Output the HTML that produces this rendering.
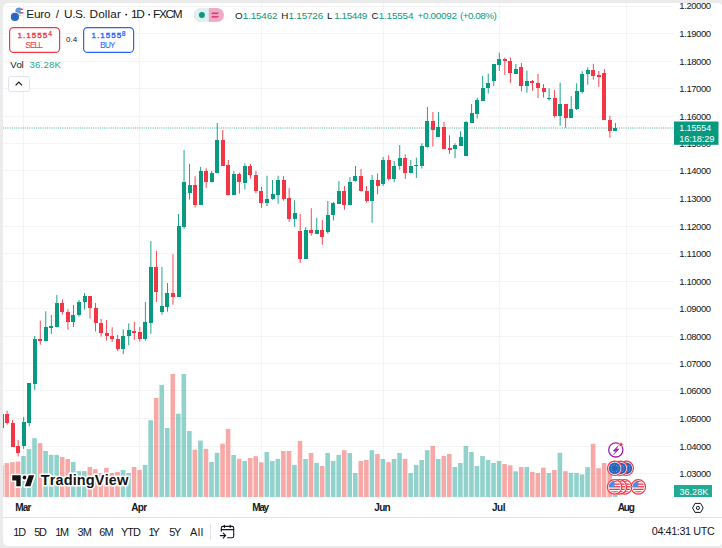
<!DOCTYPE html>
<html><head><meta charset="utf-8"><style>
*{margin:0;padding:0}
html,body{width:722px;height:548px;overflow:hidden;background:#ebebeb}
#panel{position:absolute;left:3px;top:3px;width:720px;height:543px;background:#fff;border-radius:5px}
svg{position:absolute;left:0;top:0;font-family:"Liberation Sans",Arial,sans-serif}
</style></head><body>
<div id="panel"></div>
<svg width="722" height="548">
<defs><clipPath id="pane"><rect x="3" y="3" width="670" height="494"/></clipPath>
<clipPath id="pnl"><rect x="3" y="3" width="720" height="543" rx="5"/></clipPath></defs>
<g clip-path="url(#pane)">
<rect x="3" y="6" width="670" height="1" fill="#f4f4f4"/><rect x="3" y="33" width="670" height="1" fill="#f4f4f4"/><rect x="3" y="61" width="670" height="1" fill="#f4f4f4"/><rect x="3" y="88" width="670" height="1" fill="#f4f4f4"/><rect x="3" y="116" width="670" height="1" fill="#f4f4f4"/><rect x="3" y="143" width="670" height="1" fill="#f4f4f4"/><rect x="3" y="170" width="670" height="1" fill="#f4f4f4"/><rect x="3" y="198" width="670" height="1" fill="#f4f4f4"/><rect x="3" y="226" width="670" height="1" fill="#f4f4f4"/><rect x="3" y="253" width="670" height="1" fill="#f4f4f4"/><rect x="3" y="281" width="670" height="1" fill="#f4f4f4"/><rect x="3" y="308" width="670" height="1" fill="#f4f4f4"/><rect x="3" y="336" width="670" height="1" fill="#f4f4f4"/><rect x="3" y="363" width="670" height="1" fill="#f4f4f4"/><rect x="3" y="390" width="670" height="1" fill="#f4f4f4"/><rect x="3" y="418" width="670" height="1" fill="#f4f4f4"/><rect x="3" y="446" width="670" height="1" fill="#f4f4f4"/><rect x="3" y="473" width="670" height="1" fill="#f4f4f4"/><rect x="23" y="3" width="1" height="494" fill="#f4f4f4"/><rect x="139" y="3" width="1" height="494" fill="#f4f4f4"/><rect x="261" y="3" width="1" height="494" fill="#f4f4f4"/><rect x="383" y="3" width="1" height="494" fill="#f4f4f4"/><rect x="499" y="3" width="1" height="494" fill="#f4f4f4"/><rect x="626" y="3" width="1" height="494" fill="#f4f4f4"/>
<g><rect x="-0.95" y="465.2" width="4.6" height="31.8" fill="rgba(38,166,154,0.5)"/><rect x="4.58" y="463.1" width="4.6" height="33.9" fill="rgba(239,83,80,0.5)"/><rect x="10.11" y="462.2" width="4.6" height="34.8" fill="rgba(239,83,80,0.5)"/><rect x="15.64" y="461.5" width="4.6" height="35.5" fill="rgba(239,83,80,0.5)"/><rect x="21.17" y="456.0" width="4.6" height="41.0" fill="rgba(38,166,154,0.5)"/><rect x="26.70" y="448.9" width="4.6" height="48.1" fill="rgba(38,166,154,0.5)"/><rect x="32.23" y="438.2" width="4.6" height="58.8" fill="rgba(38,166,154,0.5)"/><rect x="37.76" y="443.0" width="4.6" height="54.0" fill="rgba(239,83,80,0.5)"/><rect x="43.29" y="451.0" width="4.6" height="46.0" fill="rgba(38,166,154,0.5)"/><rect x="48.82" y="454.9" width="4.6" height="42.1" fill="rgba(38,166,154,0.5)"/><rect x="54.35" y="454.9" width="4.6" height="42.1" fill="rgba(38,166,154,0.5)"/><rect x="59.88" y="457.0" width="4.6" height="40.0" fill="rgba(239,83,80,0.5)"/><rect x="65.41" y="459.0" width="4.6" height="38.0" fill="rgba(239,83,80,0.5)"/><rect x="70.94" y="462.0" width="4.6" height="35.0" fill="rgba(38,166,154,0.5)"/><rect x="76.47" y="471.1" width="4.6" height="25.9" fill="rgba(38,166,154,0.5)"/><rect x="82.00" y="471.1" width="4.6" height="25.9" fill="rgba(38,166,154,0.5)"/><rect x="87.53" y="467.0" width="4.6" height="30.0" fill="rgba(239,83,80,0.5)"/><rect x="93.06" y="469.1" width="4.6" height="27.9" fill="rgba(239,83,80,0.5)"/><rect x="98.59" y="473.0" width="4.6" height="24.0" fill="rgba(239,83,80,0.5)"/><rect x="104.12" y="467.9" width="4.6" height="29.1" fill="rgba(239,83,80,0.5)"/><rect x="109.65" y="473.0" width="4.6" height="24.0" fill="rgba(239,83,80,0.5)"/><rect x="115.18" y="472.0" width="4.6" height="25.0" fill="rgba(239,83,80,0.5)"/><rect x="120.72" y="470.0" width="4.6" height="27.0" fill="rgba(38,166,154,0.5)"/><rect x="126.25" y="473.0" width="4.6" height="24.0" fill="rgba(38,166,154,0.5)"/><rect x="131.78" y="467.0" width="4.6" height="30.0" fill="rgba(239,83,80,0.5)"/><rect x="137.31" y="470.0" width="4.6" height="27.0" fill="rgba(239,83,80,0.5)"/><rect x="142.84" y="464.9" width="4.6" height="32.1" fill="rgba(38,166,154,0.5)"/><rect x="148.37" y="420.2" width="4.6" height="76.8" fill="rgba(38,166,154,0.5)"/><rect x="153.90" y="398.0" width="4.6" height="99.0" fill="rgba(239,83,80,0.5)"/><rect x="159.43" y="384.9" width="4.6" height="112.1" fill="rgba(38,166,154,0.5)"/><rect x="164.96" y="428.0" width="4.6" height="69.0" fill="rgba(38,166,154,0.5)"/><rect x="170.49" y="374.0" width="4.6" height="123.0" fill="rgba(239,83,80,0.5)"/><rect x="176.02" y="413.7" width="4.6" height="83.3" fill="rgba(38,166,154,0.5)"/><rect x="181.55" y="374.0" width="4.6" height="123.0" fill="rgba(38,166,154,0.5)"/><rect x="187.08" y="431.0" width="4.6" height="66.0" fill="rgba(38,166,154,0.5)"/><rect x="192.61" y="449.7" width="4.6" height="47.3" fill="rgba(239,83,80,0.5)"/><rect x="198.14" y="440.6" width="4.6" height="56.4" fill="rgba(38,166,154,0.5)"/><rect x="203.67" y="448.9" width="4.6" height="48.1" fill="rgba(239,83,80,0.5)"/><rect x="209.20" y="462.0" width="4.6" height="35.0" fill="rgba(38,166,154,0.5)"/><rect x="214.73" y="452.9" width="4.6" height="44.1" fill="rgba(38,166,154,0.5)"/><rect x="220.26" y="443.7" width="4.6" height="53.3" fill="rgba(239,83,80,0.5)"/><rect x="225.79" y="428.9" width="4.6" height="68.1" fill="rgba(239,83,80,0.5)"/><rect x="231.32" y="455.0" width="4.6" height="42.0" fill="rgba(38,166,154,0.5)"/><rect x="236.85" y="458.9" width="4.6" height="38.1" fill="rgba(239,83,80,0.5)"/><rect x="242.38" y="461.0" width="4.6" height="36.0" fill="rgba(38,166,154,0.5)"/><rect x="247.91" y="458.0" width="4.6" height="39.0" fill="rgba(239,83,80,0.5)"/><rect x="253.44" y="456.2" width="4.6" height="40.8" fill="rgba(239,83,80,0.5)"/><rect x="258.98" y="462.3" width="4.6" height="34.7" fill="rgba(239,83,80,0.5)"/><rect x="264.51" y="452.0" width="4.6" height="45.0" fill="rgba(38,166,154,0.5)"/><rect x="270.04" y="461.0" width="4.6" height="36.0" fill="rgba(38,166,154,0.5)"/><rect x="275.57" y="458.9" width="4.6" height="38.1" fill="rgba(38,166,154,0.5)"/><rect x="281.10" y="451.0" width="4.6" height="46.0" fill="rgba(239,83,80,0.5)"/><rect x="286.63" y="451.0" width="4.6" height="46.0" fill="rgba(239,83,80,0.5)"/><rect x="292.16" y="464.9" width="4.6" height="32.1" fill="rgba(38,166,154,0.5)"/><rect x="297.69" y="441.0" width="4.6" height="56.0" fill="rgba(239,83,80,0.5)"/><rect x="303.22" y="459.0" width="4.6" height="38.0" fill="rgba(38,166,154,0.5)"/><rect x="308.75" y="453.0" width="4.6" height="44.0" fill="rgba(239,83,80,0.5)"/><rect x="314.28" y="462.9" width="4.6" height="34.1" fill="rgba(38,166,154,0.5)"/><rect x="319.81" y="466.0" width="4.6" height="31.0" fill="rgba(239,83,80,0.5)"/><rect x="325.34" y="453.0" width="4.6" height="44.0" fill="rgba(38,166,154,0.5)"/><rect x="330.87" y="461.0" width="4.6" height="36.0" fill="rgba(38,166,154,0.5)"/><rect x="336.40" y="455.0" width="4.6" height="42.0" fill="rgba(38,166,154,0.5)"/><rect x="341.93" y="450.2" width="4.6" height="46.8" fill="rgba(239,83,80,0.5)"/><rect x="347.46" y="453.0" width="4.6" height="44.0" fill="rgba(38,166,154,0.5)"/><rect x="352.99" y="473.0" width="4.6" height="24.0" fill="rgba(38,166,154,0.5)"/><rect x="358.52" y="461.0" width="4.6" height="36.0" fill="rgba(239,83,80,0.5)"/><rect x="364.05" y="460.0" width="4.6" height="37.0" fill="rgba(239,83,80,0.5)"/><rect x="369.58" y="450.2" width="4.6" height="46.8" fill="rgba(38,166,154,0.5)"/><rect x="375.11" y="454.0" width="4.6" height="43.0" fill="rgba(239,83,80,0.5)"/><rect x="380.64" y="459.0" width="4.6" height="38.0" fill="rgba(38,166,154,0.5)"/><rect x="386.17" y="462.2" width="4.6" height="34.8" fill="rgba(239,83,80,0.5)"/><rect x="391.70" y="459.0" width="4.6" height="38.0" fill="rgba(38,166,154,0.5)"/><rect x="397.24" y="453.0" width="4.6" height="44.0" fill="rgba(38,166,154,0.5)"/><rect x="402.77" y="458.9" width="4.6" height="38.1" fill="rgba(239,83,80,0.5)"/><rect x="408.30" y="473.0" width="4.6" height="24.0" fill="rgba(38,166,154,0.5)"/><rect x="413.83" y="464.9" width="4.6" height="32.1" fill="rgba(38,166,154,0.5)"/><rect x="419.36" y="460.0" width="4.6" height="37.0" fill="rgba(38,166,154,0.5)"/><rect x="424.89" y="450.2" width="4.6" height="46.8" fill="rgba(38,166,154,0.5)"/><rect x="430.42" y="446.0" width="4.6" height="51.0" fill="rgba(239,83,80,0.5)"/><rect x="435.95" y="459.0" width="4.6" height="38.0" fill="rgba(38,166,154,0.5)"/><rect x="441.48" y="456.0" width="4.6" height="41.0" fill="rgba(239,83,80,0.5)"/><rect x="447.01" y="454.0" width="4.6" height="43.0" fill="rgba(239,83,80,0.5)"/><rect x="452.54" y="467.0" width="4.6" height="30.0" fill="rgba(38,166,154,0.5)"/><rect x="458.07" y="463.0" width="4.6" height="34.0" fill="rgba(38,166,154,0.5)"/><rect x="463.60" y="446.0" width="4.6" height="51.0" fill="rgba(38,166,154,0.5)"/><rect x="469.13" y="452.0" width="4.6" height="45.0" fill="rgba(38,166,154,0.5)"/><rect x="474.66" y="466.0" width="4.6" height="31.0" fill="rgba(38,166,154,0.5)"/><rect x="480.19" y="456.0" width="4.6" height="41.0" fill="rgba(38,166,154,0.5)"/><rect x="485.72" y="460.0" width="4.6" height="37.0" fill="rgba(38,166,154,0.5)"/><rect x="491.25" y="463.0" width="4.6" height="34.0" fill="rgba(38,166,154,0.5)"/><rect x="496.78" y="461.0" width="4.6" height="36.0" fill="rgba(38,166,154,0.5)"/><rect x="502.31" y="464.0" width="4.6" height="33.0" fill="rgba(239,83,80,0.5)"/><rect x="507.84" y="465.3" width="4.6" height="31.7" fill="rgba(239,83,80,0.5)"/><rect x="513.37" y="471.3" width="4.6" height="25.7" fill="rgba(38,166,154,0.5)"/><rect x="518.90" y="467.0" width="4.6" height="30.0" fill="rgba(239,83,80,0.5)"/><rect x="524.43" y="467.0" width="4.6" height="30.0" fill="rgba(38,166,154,0.5)"/><rect x="529.96" y="472.0" width="4.6" height="25.0" fill="rgba(239,83,80,0.5)"/><rect x="535.50" y="473.0" width="4.6" height="24.0" fill="rgba(239,83,80,0.5)"/><rect x="541.03" y="467.7" width="4.6" height="29.3" fill="rgba(239,83,80,0.5)"/><rect x="546.56" y="473.0" width="4.6" height="24.0" fill="rgba(38,166,154,0.5)"/><rect x="552.09" y="470.0" width="4.6" height="27.0" fill="rgba(239,83,80,0.5)"/><rect x="557.62" y="452.8" width="4.6" height="44.2" fill="rgba(38,166,154,0.5)"/><rect x="563.15" y="471.2" width="4.6" height="25.8" fill="rgba(239,83,80,0.5)"/><rect x="568.68" y="473.0" width="4.6" height="24.0" fill="rgba(38,166,154,0.5)"/><rect x="574.21" y="473.0" width="4.6" height="24.0" fill="rgba(38,166,154,0.5)"/><rect x="579.74" y="474.4" width="4.6" height="22.6" fill="rgba(38,166,154,0.5)"/><rect x="585.27" y="467.1" width="4.6" height="29.9" fill="rgba(38,166,154,0.5)"/><rect x="590.80" y="443.8" width="4.6" height="53.2" fill="rgba(239,83,80,0.5)"/><rect x="596.33" y="468.2" width="4.6" height="28.8" fill="rgba(239,83,80,0.5)"/><rect x="601.86" y="463.0" width="4.6" height="34.0" fill="rgba(239,83,80,0.5)"/><rect x="607.39" y="468.0" width="4.6" height="29.0" fill="rgba(239,83,80,0.5)"/><rect x="612.92" y="494.5" width="4.6" height="2.5" fill="rgba(38,166,154,0.5)"/></g>
<g><rect x="1.10" y="414.0" width="0.9" height="14.0" fill="#089981"/><rect x="6.63" y="410.8" width="0.9" height="13.9" fill="#f23645"/><rect x="12.16" y="420.0" width="0.9" height="26.6" fill="#f23645"/><rect x="17.69" y="440.0" width="0.9" height="16.5" fill="#f23645"/><rect x="23.22" y="416.9" width="0.9" height="31.9" fill="#089981"/><rect x="28.75" y="383.3" width="0.9" height="43.2" fill="#089981"/><rect x="34.28" y="336.0" width="0.9" height="54.0" fill="#089981"/><rect x="39.81" y="320.6" width="0.9" height="24.0" fill="#f23645"/><rect x="45.34" y="311.3" width="0.9" height="30.0" fill="#089981"/><rect x="50.87" y="315.0" width="0.9" height="19.0" fill="#089981"/><rect x="56.40" y="295.0" width="0.9" height="32.5" fill="#089981"/><rect x="61.93" y="299.3" width="0.9" height="15.3" fill="#f23645"/><rect x="67.46" y="309.3" width="0.9" height="20.4" fill="#f23645"/><rect x="72.99" y="304.9" width="0.9" height="22.1" fill="#089981"/><rect x="78.52" y="300.0" width="0.9" height="16.6" fill="#089981"/><rect x="84.05" y="293.0" width="0.9" height="16.7" fill="#089981"/><rect x="89.58" y="296.0" width="0.9" height="22.6" fill="#f23645"/><rect x="95.11" y="303.0" width="0.9" height="28.5" fill="#f23645"/><rect x="100.64" y="319.0" width="0.9" height="17.6" fill="#f23645"/><rect x="106.17" y="320.0" width="0.9" height="20.6" fill="#f23645"/><rect x="111.70" y="327.3" width="0.9" height="14.7" fill="#f23645"/><rect x="117.23" y="335.0" width="0.9" height="16.1" fill="#f23645"/><rect x="122.77" y="329.4" width="0.9" height="24.7" fill="#089981"/><rect x="128.30" y="323.4" width="0.9" height="21.8" fill="#089981"/><rect x="133.83" y="321.9" width="0.9" height="17.8" fill="#f23645"/><rect x="139.36" y="326.9" width="0.9" height="14.6" fill="#f23645"/><rect x="144.89" y="302.0" width="0.9" height="38.8" fill="#089981"/><rect x="150.42" y="241.0" width="0.9" height="92.8" fill="#089981"/><rect x="155.95" y="250.7" width="0.9" height="51.3" fill="#f23645"/><rect x="161.48" y="267.0" width="0.9" height="47.6" fill="#089981"/><rect x="167.01" y="283.0" width="0.9" height="28.7" fill="#089981"/><rect x="172.54" y="254.2" width="0.9" height="50.4" fill="#f23645"/><rect x="178.07" y="214.0" width="0.9" height="82.6" fill="#089981"/><rect x="183.60" y="150.0" width="0.9" height="78.9" fill="#089981"/><rect x="189.13" y="163.7" width="0.9" height="35.9" fill="#089981"/><rect x="194.66" y="176.2" width="0.9" height="31.4" fill="#f23645"/><rect x="200.19" y="166.9" width="0.9" height="37.7" fill="#089981"/><rect x="205.72" y="168.2" width="0.9" height="19.8" fill="#f23645"/><rect x="211.25" y="170.9" width="0.9" height="11.7" fill="#089981"/><rect x="216.78" y="122.9" width="0.9" height="50.4" fill="#089981"/><rect x="222.31" y="130.0" width="0.9" height="36.0" fill="#f23645"/><rect x="227.84" y="160.0" width="0.9" height="35.6" fill="#f23645"/><rect x="233.37" y="171.0" width="0.9" height="23.7" fill="#089981"/><rect x="238.90" y="172.6" width="0.9" height="21.0" fill="#f23645"/><rect x="244.43" y="163.3" width="0.9" height="26.3" fill="#089981"/><rect x="249.96" y="164.0" width="0.9" height="14.7" fill="#f23645"/><rect x="255.49" y="170.9" width="0.9" height="22.4" fill="#f23645"/><rect x="261.03" y="186.9" width="0.9" height="20.9" fill="#f23645"/><rect x="266.56" y="175.7" width="0.9" height="30.3" fill="#089981"/><rect x="272.09" y="180.0" width="0.9" height="19.7" fill="#089981"/><rect x="277.62" y="175.7" width="0.9" height="28.0" fill="#089981"/><rect x="283.15" y="176.2" width="0.9" height="24.4" fill="#f23645"/><rect x="288.68" y="188.2" width="0.9" height="33.7" fill="#f23645"/><rect x="294.21" y="200.2" width="0.9" height="26.7" fill="#089981"/><rect x="299.74" y="214.0" width="0.9" height="48.9" fill="#f23645"/><rect x="305.27" y="227.0" width="0.9" height="31.8" fill="#089981"/><rect x="310.80" y="208.2" width="0.9" height="27.4" fill="#f23645"/><rect x="316.33" y="217.8" width="0.9" height="15.7" fill="#089981"/><rect x="321.86" y="220.0" width="0.9" height="24.7" fill="#f23645"/><rect x="327.39" y="201.0" width="0.9" height="32.8" fill="#089981"/><rect x="332.92" y="202.0" width="0.9" height="18.5" fill="#089981"/><rect x="338.45" y="181.0" width="0.9" height="22.7" fill="#089981"/><rect x="343.98" y="186.1" width="0.9" height="23.7" fill="#f23645"/><rect x="349.51" y="177.0" width="0.9" height="27.8" fill="#089981"/><rect x="355.04" y="166.0" width="0.9" height="15.5" fill="#089981"/><rect x="360.57" y="169.0" width="0.9" height="22.7" fill="#f23645"/><rect x="366.10" y="186.1" width="0.9" height="16.5" fill="#f23645"/><rect x="371.63" y="174.9" width="0.9" height="47.9" fill="#089981"/><rect x="377.16" y="173.3" width="0.9" height="20.9" fill="#f23645"/><rect x="382.69" y="157.0" width="0.9" height="28.8" fill="#089981"/><rect x="388.22" y="155.3" width="0.9" height="25.3" fill="#f23645"/><rect x="393.75" y="161.0" width="0.9" height="21.3" fill="#089981"/><rect x="399.29" y="145.0" width="0.9" height="24.6" fill="#089981"/><rect x="404.82" y="154.4" width="0.9" height="24.5" fill="#f23645"/><rect x="410.35" y="160.0" width="0.9" height="13.6" fill="#089981"/><rect x="415.88" y="157.6" width="0.9" height="20.4" fill="#089981"/><rect x="421.41" y="143.3" width="0.9" height="25.3" fill="#089981"/><rect x="426.94" y="107.0" width="0.9" height="40.6" fill="#089981"/><rect x="432.47" y="112.0" width="0.9" height="34.6" fill="#f23645"/><rect x="438.00" y="112.0" width="0.9" height="24.6" fill="#089981"/><rect x="443.53" y="121.7" width="0.9" height="27.6" fill="#f23645"/><rect x="449.06" y="135.3" width="0.9" height="18.6" fill="#f23645"/><rect x="454.59" y="143.3" width="0.9" height="14.9" fill="#089981"/><rect x="460.12" y="131.3" width="0.9" height="14.4" fill="#089981"/><rect x="465.65" y="120.9" width="0.9" height="34.6" fill="#089981"/><rect x="471.18" y="104.0" width="0.9" height="18.6" fill="#089981"/><rect x="476.71" y="97.6" width="0.9" height="21.0" fill="#089981"/><rect x="482.24" y="76.0" width="0.9" height="24.5" fill="#089981"/><rect x="487.77" y="73.6" width="0.9" height="19.9" fill="#089981"/><rect x="493.30" y="64.2" width="0.9" height="21.8" fill="#089981"/><rect x="498.83" y="52.6" width="0.9" height="18.3" fill="#089981"/><rect x="504.36" y="57.6" width="0.9" height="17.3" fill="#f23645"/><rect x="509.89" y="57.6" width="0.9" height="25.3" fill="#f23645"/><rect x="515.42" y="64.0" width="0.9" height="9.6" fill="#089981"/><rect x="520.95" y="62.9" width="0.9" height="28.4" fill="#f23645"/><rect x="526.48" y="70.6" width="0.9" height="22.0" fill="#089981"/><rect x="532.01" y="80.0" width="0.9" height="10.7" fill="#f23645"/><rect x="537.55" y="74.0" width="0.9" height="24.1" fill="#f23645"/><rect x="543.08" y="84.0" width="0.9" height="13.5" fill="#f23645"/><rect x="548.61" y="88.3" width="0.9" height="12.2" fill="#089981"/><rect x="554.14" y="90.0" width="0.9" height="27.6" fill="#f23645"/><rect x="559.67" y="82.5" width="0.9" height="43.4" fill="#089981"/><rect x="565.20" y="104.0" width="0.9" height="23.6" fill="#f23645"/><rect x="570.73" y="96.0" width="0.9" height="21.9" fill="#089981"/><rect x="576.26" y="83.3" width="0.9" height="26.7" fill="#089981"/><rect x="581.79" y="71.2" width="0.9" height="22.4" fill="#089981"/><rect x="587.32" y="67.3" width="0.9" height="17.4" fill="#089981"/><rect x="592.85" y="63.8" width="0.9" height="15.9" fill="#f23645"/><rect x="598.38" y="71.0" width="0.9" height="16.0" fill="#f23645"/><rect x="603.91" y="69.0" width="0.9" height="50.6" fill="#f23645"/><rect x="609.44" y="115.6" width="0.9" height="22.0" fill="#f23645"/><rect x="614.97" y="123.0" width="0.9" height="7.7" fill="#089981"/></g><g shape-rendering="crispEdges"><rect x="0" y="414.0" width="4" height="14.0" fill="#089981"/><rect x="5" y="414.2" width="4" height="8.8" fill="#f23645"/><rect x="11" y="422.9" width="4" height="23.7" fill="#f23645"/><rect x="16" y="446.2" width="4" height="7.1" fill="#f23645"/><rect x="22" y="421.9" width="4" height="23.8" fill="#089981"/><rect x="27" y="383.3" width="4" height="39.4" fill="#089981"/><rect x="33" y="339.0" width="4" height="45.0" fill="#089981"/><rect x="38" y="339.3" width="4" height="1.7" fill="#f23645"/><rect x="44" y="327.3" width="4" height="13.6" fill="#089981"/><rect x="49" y="326.2" width="4" height="1.8" fill="#089981"/><rect x="55" y="303.0" width="4" height="24.0" fill="#089981"/><rect x="60" y="303.3" width="4" height="8.3" fill="#f23645"/><rect x="66" y="311.6" width="4" height="10.4" fill="#f23645"/><rect x="71" y="315.0" width="4" height="7.0" fill="#089981"/><rect x="77" y="302.0" width="4" height="13.0" fill="#089981"/><rect x="83" y="296.0" width="4" height="6.3" fill="#089981"/><rect x="88" y="296.0" width="4" height="12.0" fill="#f23645"/><rect x="94" y="308.0" width="4" height="15.3" fill="#f23645"/><rect x="99" y="322.6" width="4" height="10.3" fill="#f23645"/><rect x="105" y="332.6" width="4" height="3.4" fill="#f23645"/><rect x="110" y="335.6" width="4" height="3.2" fill="#f23645"/><rect x="116" y="339.0" width="4" height="9.8" fill="#f23645"/><rect x="121" y="336.0" width="4" height="12.8" fill="#089981"/><rect x="127" y="329.8" width="4" height="6.0" fill="#089981"/><rect x="132" y="331.0" width="4" height="1.5" fill="#f23645"/><rect x="138" y="331.9" width="4" height="6.7" fill="#f23645"/><rect x="143" y="322.0" width="4" height="16.6" fill="#089981"/><rect x="149" y="266.5" width="4" height="56.3" fill="#089981"/><rect x="154" y="266.5" width="4" height="25.2" fill="#f23645"/><rect x="160" y="306.0" width="4" height="6.0" fill="#089981"/><rect x="165" y="293.3" width="4" height="13.3" fill="#089981"/><rect x="171" y="293.3" width="4" height="3.3" fill="#f23645"/><rect x="177" y="226.0" width="4" height="70.6" fill="#089981"/><rect x="182" y="181.9" width="4" height="44.8" fill="#089981"/><rect x="188" y="184.8" width="4" height="7.9" fill="#089981"/><rect x="193" y="184.8" width="4" height="19.8" fill="#f23645"/><rect x="199" y="170.9" width="4" height="33.7" fill="#089981"/><rect x="204" y="170.9" width="4" height="11.0" fill="#f23645"/><rect x="210" y="173.3" width="4" height="8.6" fill="#089981"/><rect x="215" y="139.7" width="4" height="33.3" fill="#089981"/><rect x="221" y="140.0" width="4" height="26.0" fill="#f23645"/><rect x="226" y="165.0" width="4" height="30.0" fill="#f23645"/><rect x="232" y="173.9" width="4" height="20.8" fill="#089981"/><rect x="237" y="173.9" width="4" height="7.6" fill="#f23645"/><rect x="243" y="166.0" width="4" height="16.7" fill="#089981"/><rect x="248" y="166.0" width="4" height="9.4" fill="#f23645"/><rect x="254" y="174.9" width="4" height="16.2" fill="#f23645"/><rect x="259" y="190.9" width="4" height="11.8" fill="#f23645"/><rect x="265" y="199.0" width="4" height="3.6" fill="#089981"/><rect x="271" y="194.4" width="4" height="4.5" fill="#089981"/><rect x="276" y="180.0" width="4" height="14.9" fill="#089981"/><rect x="282" y="180.0" width="4" height="18.9" fill="#f23645"/><rect x="287" y="198.0" width="4" height="20.7" fill="#f23645"/><rect x="293" y="213.0" width="4" height="5.9" fill="#089981"/><rect x="298" y="230.5" width="4" height="28.1" fill="#f23645"/><rect x="304" y="229.9" width="4" height="28.9" fill="#089981"/><rect x="309" y="229.9" width="4" height="3.0" fill="#f23645"/><rect x="315" y="230.1" width="4" height="3.4" fill="#089981"/><rect x="320" y="229.9" width="4" height="6.9" fill="#f23645"/><rect x="326" y="214.8" width="4" height="17.0" fill="#089981"/><rect x="331" y="202.9" width="4" height="11.8" fill="#089981"/><rect x="337" y="190.9" width="4" height="12.7" fill="#089981"/><rect x="342" y="190.9" width="4" height="13.9" fill="#f23645"/><rect x="348" y="182.3" width="4" height="22.5" fill="#089981"/><rect x="353" y="175.7" width="4" height="4.9" fill="#089981"/><rect x="359" y="175.7" width="4" height="15.5" fill="#f23645"/><rect x="365" y="191.0" width="4" height="9.9" fill="#f23645"/><rect x="370" y="180.0" width="4" height="20.8" fill="#089981"/><rect x="376" y="180.0" width="4" height="5.8" fill="#f23645"/><rect x="381" y="160.0" width="4" height="23.8" fill="#089981"/><rect x="387" y="160.0" width="4" height="19.3" fill="#f23645"/><rect x="392" y="166.0" width="4" height="13.3" fill="#089981"/><rect x="398" y="158.4" width="4" height="8.0" fill="#089981"/><rect x="403" y="158.4" width="4" height="14.2" fill="#f23645"/><rect x="409" y="166.0" width="4" height="7.0" fill="#089981"/><rect x="414" y="164.6" width="4" height="1.2" fill="#089981"/><rect x="420" y="146.1" width="4" height="19.5" fill="#089981"/><rect x="425" y="120.9" width="4" height="26.1" fill="#089981"/><rect x="431" y="120.9" width="4" height="8.8" fill="#f23645"/><rect x="436" y="127.0" width="4" height="9.6" fill="#089981"/><rect x="442" y="127.0" width="4" height="22.3" fill="#f23645"/><rect x="448" y="148.2" width="4" height="1.3" fill="#f23645"/><rect x="453" y="144.9" width="4" height="4.0" fill="#089981"/><rect x="459" y="137.3" width="4" height="8.4" fill="#089981"/><rect x="464" y="122.0" width="4" height="33.5" fill="#089981"/><rect x="470" y="113.3" width="4" height="9.3" fill="#089981"/><rect x="475" y="100.1" width="4" height="13.9" fill="#089981"/><rect x="481" y="88.0" width="4" height="12.5" fill="#089981"/><rect x="486" y="83.3" width="4" height="4.9" fill="#089981"/><rect x="492" y="64.2" width="4" height="16.4" fill="#089981"/><rect x="497" y="59.3" width="4" height="5.3" fill="#089981"/><rect x="503" y="59.3" width="4" height="2.0" fill="#f23645"/><rect x="508" y="61.0" width="4" height="12.0" fill="#f23645"/><rect x="514" y="69.0" width="4" height="4.6" fill="#089981"/><rect x="519" y="66.9" width="4" height="19.0" fill="#f23645"/><rect x="525" y="81.0" width="4" height="5.0" fill="#089981"/><rect x="530" y="81.2" width="4" height="1.4" fill="#f23645"/><rect x="536" y="82.8" width="4" height="5.4" fill="#f23645"/><rect x="542" y="88.0" width="4" height="3.6" fill="#f23645"/><rect x="547" y="98.0" width="4" height="1.2" fill="#089981"/><rect x="553" y="98.2" width="4" height="17.8" fill="#f23645"/><rect x="558" y="104.1" width="4" height="11.9" fill="#089981"/><rect x="564" y="104.1" width="4" height="13.5" fill="#f23645"/><rect x="569" y="109.0" width="4" height="8.9" fill="#089981"/><rect x="575" y="91.1" width="4" height="17.8" fill="#089981"/><rect x="580" y="73.5" width="4" height="18.0" fill="#089981"/><rect x="586" y="69.9" width="4" height="4.0" fill="#089981"/><rect x="591" y="70.0" width="4" height="5.7" fill="#f23645"/><rect x="597" y="75.1" width="4" height="1.8" fill="#f23645"/><rect x="602" y="73.1" width="4" height="46.5" fill="#f23645"/><rect x="608" y="119.6" width="4" height="11.1" fill="#f23645"/><rect x="613" y="127.6" width="4" height="3.1" fill="#089981"/></g>
<line x1="3" x2="673" y1="128" y2="128" stroke="#089981" stroke-width="1" stroke-dasharray="1 1.2" opacity="0.75"/>
<circle cx="615.8" cy="449.9" r="7.1" fill="#fff" stroke="#9c27b0" stroke-width="1.3"/><path d="M618.4 445.5 L613.2 451.1 L616.0 451.1 L613.7 454.5 L619.0 448.9 L616.2 448.9 Z" fill="#9c27b0" stroke="#9c27b0" stroke-width="0.6" stroke-linejoin="round"/><circle cx="620.9" cy="444.6" r="2" fill="#f23645" stroke="#fff" stroke-width="0.6"/><circle cx="626.3" cy="468.3" r="7.2" fill="#fff" stroke="#f23645" stroke-width="1.2"/><circle cx="626.3" cy="468.3" r="5.9" fill="#1f64c8"/><circle cx="629.90" cy="468.30" r="0.5" fill="#c9a84a"/><circle cx="629.42" cy="470.10" r="0.5" fill="#c9a84a"/><circle cx="628.10" cy="471.42" r="0.5" fill="#c9a84a"/><circle cx="626.30" cy="471.90" r="0.5" fill="#c9a84a"/><circle cx="624.50" cy="471.42" r="0.5" fill="#c9a84a"/><circle cx="623.18" cy="470.10" r="0.5" fill="#c9a84a"/><circle cx="622.70" cy="468.30" r="0.5" fill="#c9a84a"/><circle cx="623.18" cy="466.50" r="0.5" fill="#c9a84a"/><circle cx="624.50" cy="465.18" r="0.5" fill="#c9a84a"/><circle cx="626.30" cy="464.70" r="0.5" fill="#c9a84a"/><circle cx="628.10" cy="465.18" r="0.5" fill="#c9a84a"/><circle cx="629.42" cy="466.50" r="0.5" fill="#c9a84a"/><circle cx="620.4" cy="468.3" r="7.2" fill="#fff" stroke="#f23645" stroke-width="1.2"/><circle cx="620.4" cy="468.3" r="5.9" fill="#1f64c8"/><circle cx="624.00" cy="468.30" r="0.5" fill="#c9a84a"/><circle cx="623.52" cy="470.10" r="0.5" fill="#c9a84a"/><circle cx="622.20" cy="471.42" r="0.5" fill="#c9a84a"/><circle cx="620.40" cy="471.90" r="0.5" fill="#c9a84a"/><circle cx="618.60" cy="471.42" r="0.5" fill="#c9a84a"/><circle cx="617.28" cy="470.10" r="0.5" fill="#c9a84a"/><circle cx="616.80" cy="468.30" r="0.5" fill="#c9a84a"/><circle cx="617.28" cy="466.50" r="0.5" fill="#c9a84a"/><circle cx="618.60" cy="465.18" r="0.5" fill="#c9a84a"/><circle cx="620.40" cy="464.70" r="0.5" fill="#c9a84a"/><circle cx="622.20" cy="465.18" r="0.5" fill="#c9a84a"/><circle cx="623.52" cy="466.50" r="0.5" fill="#c9a84a"/><circle cx="614.7" cy="468.3" r="7.2" fill="#fff" stroke="#f23645" stroke-width="1.2"/><circle cx="614.7" cy="468.3" r="5.9" fill="#1f64c8"/><circle cx="618.30" cy="468.30" r="0.5" fill="#c9a84a"/><circle cx="617.82" cy="470.10" r="0.5" fill="#c9a84a"/><circle cx="616.50" cy="471.42" r="0.5" fill="#c9a84a"/><circle cx="614.70" cy="471.90" r="0.5" fill="#c9a84a"/><circle cx="612.90" cy="471.42" r="0.5" fill="#c9a84a"/><circle cx="611.58" cy="470.10" r="0.5" fill="#c9a84a"/><circle cx="611.10" cy="468.30" r="0.5" fill="#c9a84a"/><circle cx="611.58" cy="466.50" r="0.5" fill="#c9a84a"/><circle cx="612.90" cy="465.18" r="0.5" fill="#c9a84a"/><circle cx="614.70" cy="464.70" r="0.5" fill="#c9a84a"/><circle cx="616.50" cy="465.18" r="0.5" fill="#c9a84a"/><circle cx="617.82" cy="466.50" r="0.5" fill="#c9a84a"/><clipPath id="usc3"><circle cx="624.6" cy="486.9" r="5.9"/></clipPath><circle cx="624.6" cy="486.9" r="7.2" fill="#fff" stroke="#f23645" stroke-width="1.2"/><g clip-path="url(#usc3)"><rect x="617.6" y="479.9" width="14" height="14" fill="#fff"/><rect x="617.6" y="480.90" width="14" height="1.3" fill="#f23645"/><rect x="617.6" y="483.50" width="14" height="1.3" fill="#f23645"/><rect x="617.6" y="486.10" width="14" height="1.3" fill="#f23645"/><rect x="617.6" y="488.70" width="14" height="1.3" fill="#f23645"/><rect x="617.6" y="491.30" width="14" height="1.3" fill="#f23645"/><rect x="617.6" y="493.90" width="14" height="1.3" fill="#f23645"/><rect x="617.6" y="479.9" width="7" height="7.2" fill="#4a90e2"/></g><clipPath id="usc2"><circle cx="619.4" cy="486.9" r="5.9"/></clipPath><circle cx="619.4" cy="486.9" r="7.2" fill="#fff" stroke="#f23645" stroke-width="1.2"/><g clip-path="url(#usc2)"><rect x="612.4" y="479.9" width="14" height="14" fill="#fff"/><rect x="612.4" y="480.90" width="14" height="1.3" fill="#f23645"/><rect x="612.4" y="483.50" width="14" height="1.3" fill="#f23645"/><rect x="612.4" y="486.10" width="14" height="1.3" fill="#f23645"/><rect x="612.4" y="488.70" width="14" height="1.3" fill="#f23645"/><rect x="612.4" y="491.30" width="14" height="1.3" fill="#f23645"/><rect x="612.4" y="493.90" width="14" height="1.3" fill="#f23645"/><rect x="612.4" y="479.9" width="7" height="7.2" fill="#4a90e2"/></g><clipPath id="usc1"><circle cx="614.6" cy="486.9" r="5.9"/></clipPath><circle cx="614.6" cy="486.9" r="7.2" fill="#fff" stroke="#f23645" stroke-width="1.2"/><g clip-path="url(#usc1)"><rect x="607.6" y="479.9" width="14" height="14" fill="#fff"/><rect x="607.6" y="480.90" width="14" height="1.3" fill="#f23645"/><rect x="607.6" y="483.50" width="14" height="1.3" fill="#f23645"/><rect x="607.6" y="486.10" width="14" height="1.3" fill="#f23645"/><rect x="607.6" y="488.70" width="14" height="1.3" fill="#f23645"/><rect x="607.6" y="491.30" width="14" height="1.3" fill="#f23645"/><rect x="607.6" y="493.90" width="14" height="1.3" fill="#f23645"/><rect x="607.6" y="479.9" width="7" height="7.2" fill="#4a90e2"/></g><clipPath id="usc4"><circle cx="638.3" cy="486.9" r="5.9"/></clipPath><circle cx="638.3" cy="486.9" r="7.2" fill="#fff" stroke="#f23645" stroke-width="1.2"/><g clip-path="url(#usc4)"><rect x="631.3" y="479.9" width="14" height="14" fill="#fff"/><rect x="631.3" y="480.90" width="14" height="1.3" fill="#f23645"/><rect x="631.3" y="483.50" width="14" height="1.3" fill="#f23645"/><rect x="631.3" y="486.10" width="14" height="1.3" fill="#f23645"/><rect x="631.3" y="488.70" width="14" height="1.3" fill="#f23645"/><rect x="631.3" y="491.30" width="14" height="1.3" fill="#f23645"/><rect x="631.3" y="493.90" width="14" height="1.3" fill="#f23645"/><rect x="631.3" y="479.9" width="7" height="7.2" fill="#4a90e2"/></g>
<g stroke="#fff" stroke-width="3.2" stroke-linejoin="round" paint-order="stroke" fill="#131313"><path d="M12.2 475.3 H20.7 V486.3 H16.3 V480.5 H12.2 Z"/><circle cx="24.6" cy="477.6" r="2"/><path d="M28.8 475.3 H34.1 L30.4 486.3 H24.9 Z"/><text x="40.65 49.67 55.44 63.65 72.68 76.80 85.82 94.84 104.69 108.82 117.03" y="485.30" font-size="14.7" font-weight="bold" fill="#131313" stroke-width="3.2">TradingView</text></g>
</g>
<g clip-path="url(#pnl)"><text x="679.29 684.16 686.38 691.25 696.12 700.99 705.86" y="9.00" font-size="9.5" fill="#131722">1.20000</text><text x="679.29 684.16 686.38 691.25 696.12 700.99 705.86" y="36.70" font-size="9.5" fill="#131722">1.19000</text><text x="679.29 684.16 686.38 691.25 696.12 700.99 705.86" y="64.70" font-size="9.5" fill="#131722">1.18000</text><text x="679.29 684.16 686.38 691.25 696.12 700.99 705.86" y="91.70" font-size="9.5" fill="#131722">1.17000</text><text x="679.29 684.16 686.38 691.25 696.12 700.99 705.86" y="119.70" font-size="9.5" fill="#131722">1.16000</text><text x="679.29 684.16 686.38 691.25 696.12 700.99 705.86" y="146.70" font-size="9.5" fill="#131722">1.15000</text><text x="679.29 684.16 686.38 691.25 696.12 700.99 705.86" y="173.70" font-size="9.5" fill="#131722">1.14000</text><text x="679.29 684.16 686.38 691.25 696.12 700.99 705.86" y="201.70" font-size="9.5" fill="#131722">1.13000</text><text x="679.29 684.16 686.38 691.25 696.12 700.99 705.86" y="229.70" font-size="9.5" fill="#131722">1.12000</text><text x="679.29 684.16 686.38 691.25 696.12 700.99 705.86" y="256.70" font-size="9.5" fill="#131722">1.11000</text><text x="679.29 684.16 686.38 691.25 696.12 700.99 705.86" y="284.70" font-size="9.5" fill="#131722">1.10000</text><text x="679.29 684.16 686.38 691.25 696.12 700.99 705.86" y="311.70" font-size="9.5" fill="#131722">1.09000</text><text x="679.29 684.16 686.38 691.25 696.12 700.99 705.86" y="339.70" font-size="9.5" fill="#131722">1.08000</text><text x="679.29 684.16 686.38 691.25 696.12 700.99 705.86" y="366.70" font-size="9.5" fill="#131722">1.07000</text><text x="679.29 684.16 686.38 691.25 696.12 700.99 705.86" y="393.70" font-size="9.5" fill="#131722">1.06000</text><text x="679.29 684.16 686.38 691.25 696.12 700.99 705.86" y="421.70" font-size="9.5" fill="#131722">1.05000</text><text x="679.29 684.16 686.38 691.25 696.12 700.99 705.86" y="449.70" font-size="9.5" fill="#131722">1.04000</text><text x="679.29 684.16 686.38 691.25 696.12 700.99 705.86" y="476.70" font-size="9.5" fill="#131722">1.03000</text></g>
<rect x="674" y="121.5" width="44.5" height="23.3" fill="#089981"/><text x="679.33 684.21 686.61 691.49 696.37 701.25 706.13" y="131.20" font-size="8.9" fill="#fff">1.15554</text><text x="679.30 684.32 689.34 691.77 696.79 701.81 704.24 709.26" y="141.50" font-size="9.3" fill="#fff">16:18:29</text><rect x="674" y="485" width="38" height="12" fill="#22ab94"/><text x="679.44 684.49 689.55 692.10 697.15 702.21" y="494.50" font-size="9.0" fill="#fff">36.28K</text>
<text x="15.15 22.68 27.45" y="510.80" font-size="10" font-weight="bold" fill="#131722">Mar</text><text x="131.35 137.86 143.25" y="510.80" font-size="10" font-weight="bold" fill="#131722">Apr</text><text x="252.25 259.31 263.60" y="510.80" font-size="10" font-weight="bold" fill="#131722">May</text><text x="374.35 379.20 384.60" y="510.80" font-size="10" font-weight="bold" fill="#131722">Jun</text><text x="491.95 497.10 502.80" y="510.80" font-size="10" font-weight="bold" fill="#131722">Jul</text><text x="617.85 623.81 628.65" y="510.80" font-size="10" font-weight="bold" fill="#131722">Aug</text>
<text x="26.36 33.96 40.26 43.92" y="18.40" font-size="11.8" fill="#131722">Euro</text><text x="55.70" y="18.40" font-size="11.8" fill="#131722">/</text><text x="64.11 72.21 75.07 82.52" y="18.40" font-size="11.8" fill="#131722">U.S.</text><text x="89.56 98.16 104.82 107.52 110.23 116.88" y="18.40" font-size="11.8" fill="#131722">Dollar</text><text x="130.92 136.34" y="18.40" font-size="11.8" fill="#131722">1D</text><text x="152.96 158.93 165.56 172.85" y="18.40" font-size="11.8" fill="#131722">FXCM</text><circle cx="126.2" cy="14.6" r="0.95" fill="#131722"/><circle cx="149.2" cy="14.6" r="0.95" fill="#131722"/>
<text x="234.96" y="18.80" font-size="9.9" fill="#131722">O</text><text x="242.66 248.02 250.63 256.00 261.37 266.73 272.10" y="18.80" font-size="9.9" fill="#089981">1.15462</text><text x="281.34" y="18.80" font-size="9.9" fill="#131722">H</text><text x="288.46 293.79 296.37 301.70 307.03 312.37 317.70" y="18.80" font-size="9.9" fill="#089981">1.15726</text><text x="327.06" y="18.80" font-size="9.9" fill="#131722">L</text><text x="334.16 339.23 341.55 346.63 351.70 356.78 361.85" y="18.80" font-size="9.9" fill="#089981">1.15449</text><text x="371.41" y="18.80" font-size="9.9" fill="#131722">C</text><text x="378.66 383.99 386.57 391.90 397.24 402.57 407.90" y="18.80" font-size="9.9" fill="#089981">1.15554</text><text x="417.50 422.98 428.17 430.61 435.81 441.01 446.20 451.40" y="18.80" font-size="9.9" fill="#089981">+0.00092</text><text x="460.11 462.86 468.09 473.05 475.25 480.21 485.17 493.43" y="18.80" font-size="9.9" fill="#089981">(+0.08%)</text>
<rect x="194" y="8" width="30" height="14" rx="7" fill="#f1aac8"/><path d="M201 8 H208.8 V22 H201 A7 7 0 0 1 201 8 Z" fill="#dff2ef"/><circle cx="201.9" cy="14.9" r="3" fill="#089981"/><path d="M212.2 13.6 C213.4 12.8 214.3 12.9 215.1 13.3 S216.7 13.8 217.9 13.0 M212.2 17.1 C213.4 16.3 214.3 16.4 215.1 16.8 S216.7 17.3 217.9 16.5" fill="none" stroke="#d9365e" stroke-width="1.45" stroke-linecap="round"/>
<clipPath id="usf"><circle cx="19.5" cy="11.6" r="4.1"/></clipPath><g clip-path="url(#usf)"><rect x="14" y="6" width="11" height="11" fill="#fff"/><rect x="14" y="8.4" width="11" height="1.5" fill="#f23645"/><rect x="14" y="12.1" width="11" height="1.5" fill="#f23645"/><rect x="14" y="15" width="11" height="1.3" fill="#f23645"/><rect x="14" y="6" width="6.6" height="7.1" fill="#5b9be6"/></g><circle cx="14.9" cy="16.9" r="5.0" fill="#fff"/><circle cx="14.9" cy="16.9" r="4.1" fill="#1d5fc9"/><circle cx="14.9" cy="16.9" r="2.9" fill="none" stroke="#c9a24a" stroke-width="0.6" stroke-dasharray="0.7 0.8"/><circle cx="14.9" cy="16.9" r="2.2" fill="#1f66cc"/>
<rect x="9.6" y="27.6" width="50" height="24.8" rx="4" fill="#fff" stroke="#f23645" stroke-width="1.2"/><rect x="83.6" y="27.6" width="50" height="24.8" rx="4" fill="#fff" stroke="#2962ff" stroke-width="1.2"/><text x="17.49 22.99 26.23 31.73 37.23 42.73" y="38.00" font-size="8.1" fill="#f23645" stroke="#f23645" stroke-width="0.35">1.1555</text><text x="48.17" y="35.50" font-size="6.7" fill="#f23645" stroke="#f23645" stroke-width="0.25">4</text><text x="25.22 29.90 34.59 38.34" y="47.80" font-size="8.5" fill="#f23645">SELL</text><text x="91.49 96.99 100.23 105.73 111.23 116.73" y="38.00" font-size="8.1" fill="#2962ff" stroke="#2962ff" stroke-width="0.35">1.1555</text><text x="121.82" y="35.50" font-size="6.7" fill="#2962ff" stroke="#2962ff" stroke-width="0.25">8</text><text x="100.02 104.68 109.82" y="47.80" font-size="8.5" fill="#2962ff">BUY</text><text x="65.88 70.40 72.70" y="41.90" font-size="8" fill="#131722">0.4</text><text x="10.35 16.41 21.41" y="67.70" font-size="9.6" fill="#131722">Vol</text><text x="29.42 34.99 40.56 43.46 49.04 54.61" y="67.70" font-size="9.6" fill="#22ab94">36.28K</text><rect x="8.5" y="76.5" width="21" height="15" rx="2.5" fill="#fff" stroke="#e0e3eb" stroke-width="1"/><path d="M15.6 85.3 L18.8 82.1 L22 85.3" fill="none" stroke="#131722" stroke-width="1.2"/>
<text x="13.18 18.24" y="535.70" font-size="10.9" fill="#131722">1D</text><text x="34.36 39.04" y="535.70" font-size="10.9" fill="#131722">5D</text><text x="55.28 60.02" y="535.70" font-size="10.9" fill="#131722">1M</text><text x="77.46 82.72" y="535.70" font-size="10.9" fill="#131722">3M</text><text x="99.25 104.62" y="535.70" font-size="10.9" fill="#131722">6M</text><text x="121.03 127.29 132.94" y="535.70" font-size="10.9" fill="#131722">YTD</text><text x="148.38 152.57" y="535.70" font-size="10.9" fill="#131722">1Y</text><text x="169.26 173.97" y="535.70" font-size="10.9" fill="#131722">5Y</text><text x="189.90 197.73 200.71" y="535.70" font-size="10.9" fill="#131722">All</text>
<text x="651.77 657.38 663.00 665.61 671.22 676.84 679.45 685.06 690.68 693.29 700.70 706.90" y="534.60" font-size="10.8" fill="#131722">04:41:31 UTC</text>
<g fill="none" stroke="#131722" stroke-width="1.1" stroke-linecap="round"><path d="M221.3 531.2 V528 Q221.3 526.4 223 526.4 H232 Q233.7 526.4 233.7 528 V536.2 Q233.7 537.8 232 537.8 H227.6"/><path d="M221.3 529.6 H233.7"/><path d="M224.4 525.2 V527.4"/><path d="M230.2 525.2 V527.4"/><path d="M220.3 535.6 H225.6 M223.2 533.2 L225.6 535.6 L223.2 538.2"/></g>
<g fill="none" stroke="#131722" stroke-width="1"><path d="M692.6 507.9 L695 503.4 H700.6 L703.2 507.9 L700.6 512.4 H695 Z"/><circle cx="697.9" cy="507.9" r="1.6"/></g>
<rect x="3" y="517" width="719" height="1" fill="#e0e3eb"/>
<rect x="210" y="524" width="1" height="16" fill="#e0e3eb"/>
</svg>
</body></html>
